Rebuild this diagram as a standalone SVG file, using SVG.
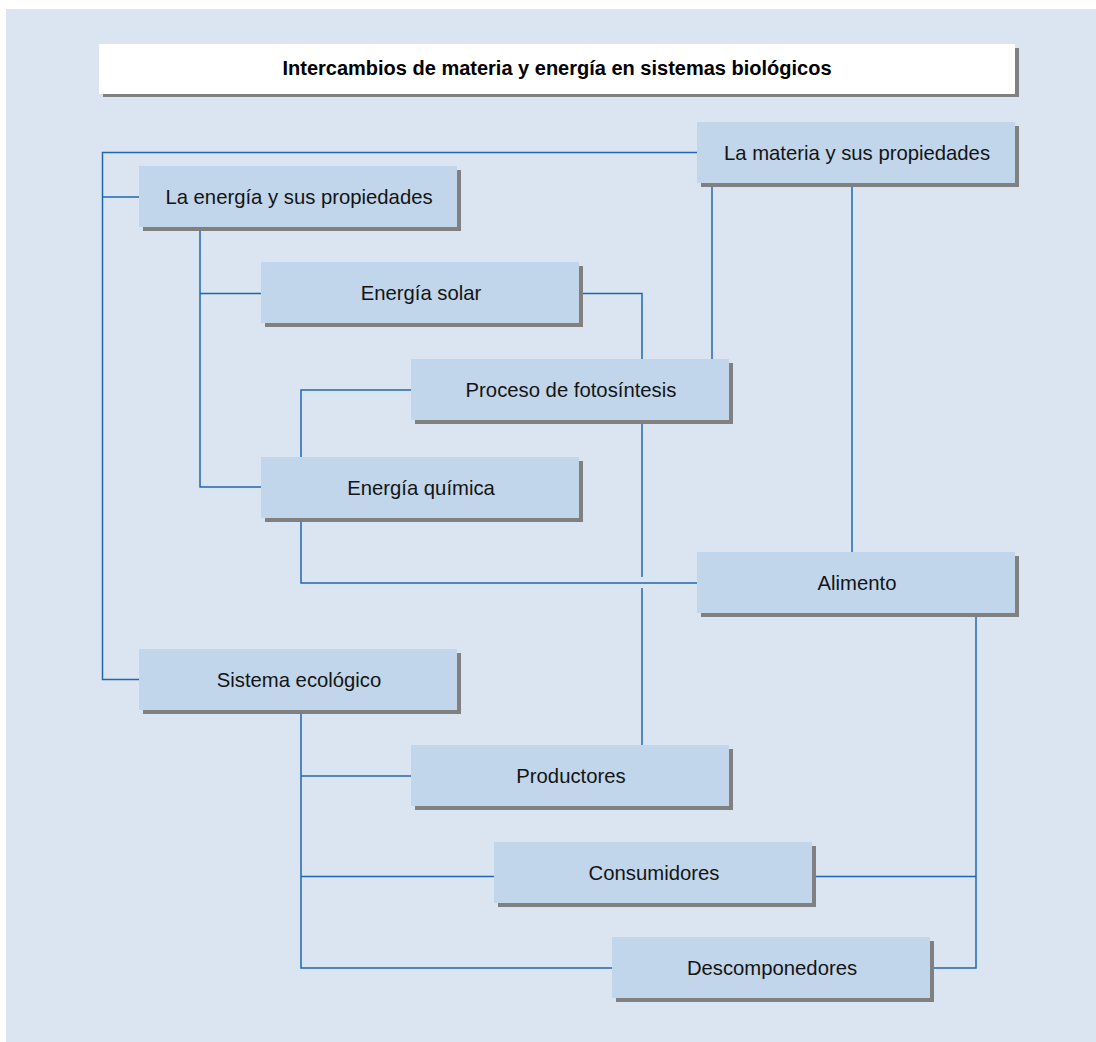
<svg xmlns="http://www.w3.org/2000/svg" width="1096" height="1042" viewBox="0 0 1096 1042">
<style>
.bg{fill:#dae5f1}
.box{fill:#c1d6ea}
.tbox{fill:#ffffff}
.sh{fill:#808080}
.lbl{font-family:"Liberation Sans",Arial,sans-serif;font-size:20.3px;fill:#141414;text-anchor:middle}
.ttl{font-family:"Liberation Sans",Arial,sans-serif;font-size:20px;font-weight:bold;fill:#000;text-anchor:middle}
.ln{fill:none;stroke:#1f67b3;stroke-width:1.5}
</style>
<rect class="bg" x="6" y="9" width="1090" height="1033"/>
<g id="title">
<rect class="sh" x="103" y="48" width="916" height="49"/>
<rect class="tbox" x="99" y="44" width="916" height="50"/>
<text class="ttl" x="557" y="75">Intercambios de materia y energía en sistemas biológicos</text>
</g>
<g id="connectors">
<path class="ln" d="M697,152.5 H102.5 V679.5 H139"/>
<path class="ln" d="M102.5,197 H139"/>
<path class="ln" d="M200,227 V487 H261"/>
<path class="ln" d="M200,293.5 H261"/>
<path class="ln" d="M579,293.5 H642 V359"/>
<path class="ln" d="M642,419 V577"/>
<path class="ln" d="M642,588 V745"/>
<path class="ln" d="M712,183 V359"/>
<path class="ln" d="M852,183 V552"/>
<path class="ln" d="M411,390 H301 V457"/>
<path class="ln" d="M301,518 V583 H697"/>
<path class="ln" d="M976,613 V968 H930"/>
<path class="ln" d="M812,876.5 H976"/>
<path class="ln" d="M301,710 V968 H612"/>
<path class="ln" d="M301,776 H411"/>
<path class="ln" d="M301,876.5 H494"/>
</g>
<g id="materia">
<rect class="sh" x="701" y="126" width="318" height="61"/>
<rect class="box" x="697" y="122" width="318" height="61"/>
<text class="lbl" x="857" y="160">La materia y sus propiedades</text>
</g>
<g id="energia">
<rect class="sh" x="143" y="170" width="318" height="61"/>
<rect class="box" x="139" y="166" width="318" height="61"/>
<text class="lbl" x="299" y="204">La energía y sus propiedades</text>
</g>
<g id="solar">
<rect class="sh" x="265" y="266" width="318" height="61"/>
<rect class="box" x="261" y="262" width="318" height="61"/>
<text class="lbl" x="421" y="300">Energía solar</text>
</g>
<g id="fotosintesis">
<rect class="sh" x="415" y="363" width="318" height="61"/>
<rect class="box" x="411" y="359" width="318" height="61"/>
<text class="lbl" x="571" y="397">Proceso de fotosíntesis</text>
</g>
<g id="quimica">
<rect class="sh" x="265" y="461" width="318" height="61"/>
<rect class="box" x="261" y="457" width="318" height="61"/>
<text class="lbl" x="421" y="495">Energía química</text>
</g>
<g id="alimento">
<rect class="sh" x="701" y="556" width="318" height="61"/>
<rect class="box" x="697" y="552" width="318" height="61"/>
<text class="lbl" x="857" y="590">Alimento</text>
</g>
<g id="ecologico">
<rect class="sh" x="143" y="653" width="318" height="61"/>
<rect class="box" x="139" y="649" width="318" height="61"/>
<text class="lbl" x="299" y="687">Sistema ecológico</text>
</g>
<g id="productores">
<rect class="sh" x="415" y="749" width="318" height="61"/>
<rect class="box" x="411" y="745" width="318" height="61"/>
<text class="lbl" x="571" y="783">Productores</text>
</g>
<g id="consumidores">
<rect class="sh" x="498" y="846" width="318" height="61"/>
<rect class="box" x="494" y="842" width="318" height="61"/>
<text class="lbl" x="654" y="880">Consumidores</text>
</g>
<g id="descomponedores">
<rect class="sh" x="616" y="941" width="318" height="61"/>
<rect class="box" x="612" y="937" width="318" height="61"/>
<text class="lbl" x="772" y="975">Descomponedores</text>
</g>
</svg>
